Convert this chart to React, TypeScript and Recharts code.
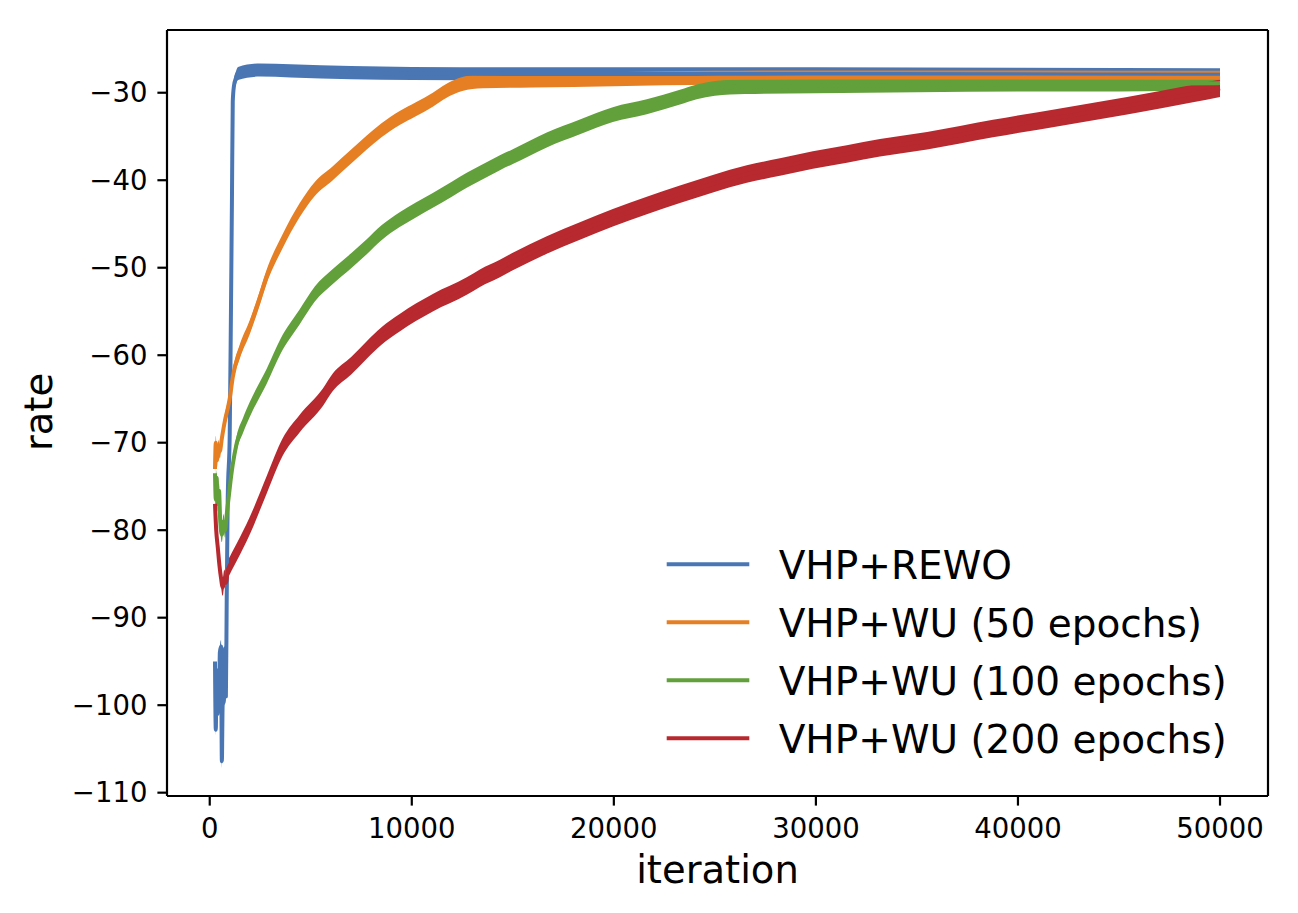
import React from 'react';
import { ComposedChart, Line, Area, XAxis, YAxis, ReferenceLine } from 'recharts';

// ---------- data ----------
const iterTicks = [0, 10000, 20000, 30000, 40000, 50000];
const rateTicks = [-110, -100, -90, -80, -70, -60, -50, -40, -30];
const iterDomain = [-2115, 52375];
const rateDomain = [-110.38, -22.83];

const seriesNames = ['VHP+REWO', 'VHP+WU (50 epochs)', 'VHP+WU (100 epochs)', 'VHP+WU (200 epochs)'];
const seriesColors = ['#4a77b3', '#e67f24', '#62a03b', '#b7292f'];
// vertical half-height of the noisy band (rate units)
const bandHalf = [0.75, 0.8, 0.85, 1.0];

const rewo: [number, number][] = [
  [260, -95], [300, -102.8], [340, -96], [380, -101], [420, -97.5], [460, -100.5],
  [500, -94], [560, -93.3], [600, -106.4], [640, -100], [700, -99.5], [760, -93.5],
  [800, -99], [840, -88], [890, -76.5], [990, -69], [1050, -55], [1100, -42],
  [1140, -31], [1200, -29.2], [1300, -28.3], [1400, -27.8], [2500, -27.4],
  [4000, -27.5], [7000, -27.7], [10000, -27.8], [15000, -27.85], [20000, -27.85],
  [30000, -27.85], [40000, -27.9], [50000, -27.95],
];

const wu50: [number, number][] = [
  [260, -73], [300, -70], [360, -72], [420, -70.5], [500, -71], [600, -69.5],
  [750, -67.5], [900, -66], [1000, -64.8], [1140, -62.5], [1500, -59.5],
  [1980, -56.8], [2400, -54], [2820, -51], [3600, -47], [4455, -43.4],
  [5200, -41], [6090, -39.2], [7000, -37.3], [7770, -35.7], [8500, -34.3],
  [9400, -32.9], [10200, -31.9], [11040, -30.8], [11700, -29.8], [12500, -29.0],
  [13500, -28.7], [16000, -28.6], [20000, -28.45], [25000, -28.3], [30000, -28.25],
  [40000, -28.25], [50000, -28.3],
];

const wu100: [number, number][] = [
  [260, -73.5], [300, -76.5], [340, -74], [400, -77], [460, -75.5], [520, -79],
  [600, -80.5], [680, -79], [760, -80], [850, -78], [950, -76], [1050, -74],
  [1140, -72.5], [1340, -70], [1650, -68], [1980, -66.2], [2820, -62.4],
  [3500, -59], [4455, -55.6], [5200, -53], [6090, -51], [7000, -49.2],
  [7770, -47.6], [8500, -46], [9400, -44.5], [10200, -43.4], [11040, -42.3],
  [12000, -41], [12720, -40], [13370, -39.2], [14360, -38], [15000, -37.3],
  [16680, -35.4], [18320, -33.9], [19950, -32.5], [21630, -31.6], [23270, -30.5],
  [24100, -29.9], [25000, -29.5], [26500, -29.3], [30000, -29.2], [35000, -29.1],
  [40000, -29.0], [45000, -29.0], [50000, -28.9],
];

const wu200: [number, number][] = [
  [260, -77], [320, -80], [400, -82], [480, -84], [560, -85.5], [640, -86.5],
  [720, -85.5], [800, -86], [900, -84.5], [1000, -84], [1340, -82.5],
  [1980, -79.5], [2820, -74.8], [3610, -70.5], [4455, -67.8], [5600, -64.8],
  [6090, -63.1], [7000, -61.2], [7770, -59.4], [8500, -57.8], [9400, -56.3],
  [10200, -55.1], [11040, -54], [12720, -52.1], [13370, -51.2], [14360, -50.1],
  [15000, -49.3], [16680, -47.4], [18320, -45.8], [19950, -44.3], [21630, -42.9],
  [23270, -41.6], [24900, -40.4], [26580, -39.3], [28220, -38.5], [29850, -37.7],
  [31530, -37.0], [33170, -36.3], [35500, -35.5], [38760, -34.1], [42080, -32.8],
  [45400, -31.5], [48660, -30.1], [50000, -29.5],
];

const allSeries = [rewo, wu50, wu100, wu200];

// ---------- layout ----------
const W = 1290;
const H = 905;
const FONT = '"DejaVu Sans", "Liberation Sans", sans-serif';
const LW = 2.2;

const fmt = (v: number) => (v < 0 ? '\u2212' + Math.abs(v) : String(v));

export default function App() {
  const tables = allSeries.map((s, i) =>
    s.map(([x, y]) => ({ x, y, band: [y - bandHalf[i], y + bandHalf[i]] }))
  );
  const items: React.ReactNode[] = [];
  tables.forEach((t, i) => {
    items.push(
      <Area
        key={'a' + i}
        data={t}
        dataKey="band"
        type="monotone"
        stroke="none"
        fill={seriesColors[i]}
        fillOpacity={1}
        dot={false}
        activeDot={false}
        isAnimationActive={false}
      />
    );
    items.push(
      <Line
        key={'l' + i}
        data={t}
        dataKey="y"
        type="monotone"
        stroke={seriesColors[i]}
        strokeWidth={4}
        strokeLinejoin="round"
        dot={false}
        activeDot={false}
        isAnimationActive={false}
      />
    );
  });
  return (
    <div style={{ position: 'relative', width: W, height: H }}>
      <ComposedChart
        width={W}
        height={H}
        margin={{ top: 22, right: 30, left: 59, bottom: 57 }}
      >
        <XAxis
          type="number"
          dataKey="x"
          domain={iterDomain}
          ticks={iterTicks}
          allowDataOverflow
          height={60}
          tickSize={9.6}
          tickMargin={13}
          axisLine={{ stroke: '#000', strokeWidth: LW }}
          tickLine={{ stroke: '#000', strokeWidth: LW }}
          tick={{ fill: '#000', fontSize: 27.5, fontFamily: FONT }}
          interval={0}
        />
        <YAxis
          type="number"
          dataKey="y"
          domain={rateDomain}
          ticks={rateTicks}
          allowDataOverflow
          width={100}
          tickSize={9.6}
          tickMargin={10}
          axisLine={{ stroke: '#000', strokeWidth: LW }}
          tickLine={{ stroke: '#000', strokeWidth: LW }}
          tick={{ fill: '#000', fontSize: 27.5, fontFamily: FONT }}
          tickFormatter={fmt}
          interval={0}
        />
        {items}
        <ReferenceLine y={rateDomain[1]} stroke="#000" strokeWidth={LW} />
        <ReferenceLine x={iterDomain[1]} stroke="#000" strokeWidth={LW} />
      </ComposedChart>
      <svg
        width={W}
        height={H}
        style={{ position: 'absolute', left: 0, top: 0, pointerEvents: 'none' }}
      >
        <text x={709.5} y={875} textAnchor="middle" fontSize={38.5} fontFamily={FONT} fill="#000">
          iteration
        </text>
        <text
          x={44}
          y={404}
          textAnchor="middle"
          fontSize={38.5}
          fontFamily={FONT}
          fill="#000"
          transform="rotate(-90 44 404)"
        >
          rate
        </text>
        {seriesNames.map((n, i) => (
          <g key={n}>
            <line
              x1={658.7}
              x2={741.3}
              y1={556.3 + i * 58}
              y2={556.3 + i * 58}
              stroke={seriesColors[i]}
              strokeWidth={4}
            />
            <text x={770.7} y={571.3 + i * 58} fontSize={39} fontFamily={FONT} fill="#000">
              {n}
            </text>
          </g>
        ))}
      </svg>
    </div>
  );
}
